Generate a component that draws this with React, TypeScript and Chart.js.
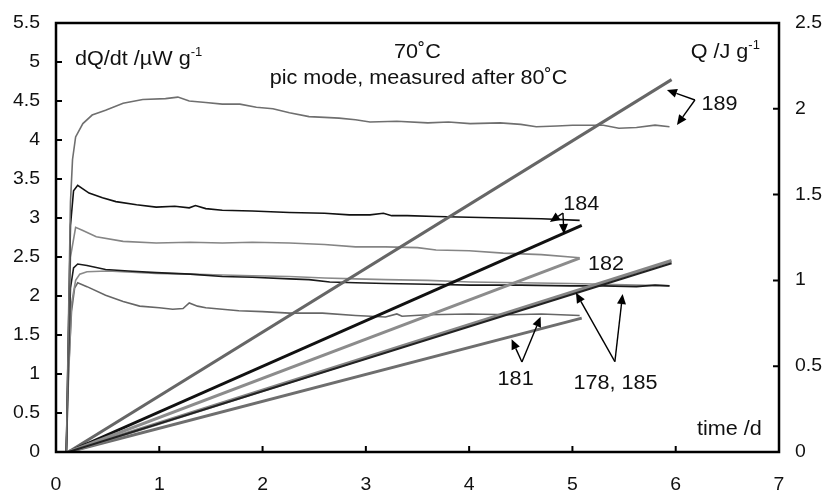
import React, { useEffect, useRef } from 'react';
import { Chart, registerables } from 'chart.js';

Chart.register(...registerables);

// ---- axis ticks ----
const timeTicks = [0, 1, 2, 3, 4, 5, 6, 7];
const flowTicks = [0, 0.5, 1, 1.5, 2, 2.5, 3, 3.5, 4, 4.5, 5, 5.5];
const heatTicks = [0, 0.5, 1, 1.5, 2, 2.5];

// ---- heat flow dQ/dt (µW g-1) against time (d) ----
const flow189T = [0.10, 0.12, 0.14, 0.16, 0.19, 0.26, 0.35, 0.48, 0.65, 0.84, 1.06, 1.18, 1.29, 1.45, 1.61, 1.78, 1.94, 2.10, 2.26, 2.45, 2.60, 2.74, 2.90, 3.04, 3.30, 3.60, 3.80, 4.01, 4.30, 4.50, 4.65, 4.85, 5.00, 5.30, 5.45, 5.62, 5.80, 5.94];
const flow189 = [0, 1.6, 3.2, 3.75, 4.04, 4.21, 4.32, 4.38, 4.47, 4.52, 4.53, 4.55, 4.50, 4.48, 4.46, 4.46, 4.42, 4.40, 4.35, 4.30, 4.29, 4.28, 4.26, 4.23, 4.24, 4.22, 4.23, 4.21, 4.22, 4.20, 4.17, 4.18, 4.19, 4.19, 4.15, 4.16, 4.19, 4.17];

const flow184T = [0.10, 0.12, 0.14, 0.17, 0.21, 0.32, 0.45, 0.58, 0.78, 0.97, 1.15, 1.29, 1.35, 1.45, 1.61, 1.90, 2.26, 2.60, 2.84, 3.04, 3.17, 3.25, 3.40, 3.68, 4.00, 4.33, 4.70, 5.07];
const flow184 = [0, 1.5, 2.9, 3.35, 3.42, 3.32, 3.26, 3.21, 3.17, 3.14, 3.15, 3.13, 3.16, 3.12, 3.10, 3.09, 3.07, 3.06, 3.04, 3.04, 3.06, 3.03, 3.03, 3.02, 3.01, 3.00, 2.99, 2.97];

const flow182T = [0.10, 0.12, 0.14, 0.19, 0.26, 0.39, 0.65, 0.97, 1.30, 1.61, 1.90, 2.26, 2.60, 2.90, 3.19, 3.50, 3.68, 4.00, 4.33, 4.70, 5.07];
const flow182 = [0, 1.4, 2.5, 2.88, 2.84, 2.76, 2.70, 2.68, 2.69, 2.68, 2.69, 2.68, 2.66, 2.63, 2.63, 2.62, 2.59, 2.58, 2.55, 2.53, 2.49];

const flow178T = [0.10, 0.12, 0.14, 0.17, 0.21, 0.30, 0.48, 0.70, 0.97, 1.30, 1.61, 1.90, 2.26, 2.45, 2.65, 2.90, 3.19, 3.60, 4.01, 4.50, 4.98, 5.30, 5.62, 5.80, 5.94];
const flow178 = [0, 1.2, 2.1, 2.36, 2.41, 2.39, 2.34, 2.32, 2.30, 2.28, 2.25, 2.24, 2.22, 2.21, 2.18, 2.17, 2.16, 2.15, 2.14, 2.14, 2.13, 2.13, 2.12, 2.14, 2.13];

const flow185T = [0.10, 0.12, 0.15, 0.19, 0.23, 0.30, 0.50, 0.97, 1.30, 1.61, 1.90, 2.26, 2.60, 2.90, 3.19, 3.60, 4.01, 4.50, 4.98, 5.30, 5.62, 5.94];
const flow185 = [0, 0.9, 1.9, 2.2, 2.28, 2.31, 2.32, 2.29, 2.28, 2.27, 2.26, 2.25, 2.23, 2.22, 2.21, 2.20, 2.18, 2.17, 2.16, 2.15, 2.14, 2.13];

const flow181T = [0.10, 0.12, 0.15, 0.18, 0.21, 0.30, 0.48, 0.65, 0.81, 1.00, 1.13, 1.23, 1.29, 1.37, 1.45, 1.77, 2.00, 2.26, 2.58, 2.90, 3.19, 3.30, 3.35, 3.60, 4.00, 4.40, 4.70, 5.07];
const flow181 = [0, 1.0, 1.8, 2.1, 2.17, 2.12, 2.01, 1.93, 1.87, 1.85, 1.83, 1.84, 1.91, 1.87, 1.85, 1.81, 1.80, 1.78, 1.78, 1.75, 1.73, 1.77, 1.74, 1.76, 1.77, 1.76, 1.77, 1.75];

// ---- cumulative heat Q (J g-1) against time (d) ----
const heat189T = [0.12, 5.96];
const heat189 = [0, 2.17];
const heat184T = [0.12, 5.09];
const heat184 = [0, 1.32];
const heat182T = [0.12, 5.07];
const heat182 = [0, 1.13];
const heat185T = [0.12, 5.96];
const heat185 = [0, 1.115];
const heat178T = [0.12, 5.96];
const heat178 = [0, 1.10];
const heat181T = [0.12, 5.09];
const heat181 = [0, 0.78];

// ---- annotation text (time, left-axis value) ----
const labelTexts = ['189', '184', '182', '181', '178, 185'];
const labelT = [6.25, 4.91, 5.15, 4.45, 5.417];
const labelV = [4.385, 3.10, 2.33, 0.859, 0.808];
const labelAlign: CanvasTextAlign[] = ['left', 'left', 'left', 'center', 'center'];

// ---- pointer arrows: from (time, value) to (time, value) ----
const arrowFromT = [6.186, 6.186, 4.908, 4.908, 4.511, 4.511, 5.411, 5.411];
const arrowFromV = [4.513, 4.513, 3.064, 3.064, 1.154, 1.154, 1.158, 1.158];
const arrowToT = [5.915, 6.012, 4.782, 4.918, 4.411, 4.692, 5.034, 5.486];
const arrowToV = [4.641, 4.192, 2.949, 2.795, 1.445, 1.735, 2.042, 2.026];

const FONT = '"Liberation Sans", Arial, Helvetica, sans-serif';
const SX = 1.08; // horizontal glyph stretch of the lettering
const INK = '#111';

const pts = (t: number[], v: number[]) => t.map((x, i) => ({ x, y: v[i] }));

function drawText(
  ctx: CanvasRenderingContext2D,
  str: string,
  x: number,
  y: number,
  size: number,
  align: CanvasTextAlign,
  baseline: CanvasTextBaseline = 'alphabetic'
) {
  ctx.save();
  ctx.font = `${size}px ${FONT}`;
  const w = ctx.measureText(str).width * SX;
  const x0 = align === 'left' ? x : align === 'center' ? x - w / 2 : x - w;
  ctx.translate(x0, y);
  ctx.scale(SX, 1);
  ctx.textAlign = 'left';
  ctx.textBaseline = baseline;
  ctx.fillStyle = INK;
  ctx.fillText(str, 0, 0);
  ctx.restore();
  return w;
}

function textWidth(ctx: CanvasRenderingContext2D, str: string, size: number) {
  ctx.save();
  ctx.font = `${size}px ${FONT}`;
  const w = ctx.measureText(str).width * SX;
  ctx.restore();
  return w;
}

// unit label with a "-1" exponent
function drawUnit(
  ctx: CanvasRenderingContext2D,
  main: string,
  x: number,
  y: number,
  align: 'left' | 'right'
) {
  const size = 20;
  const supSize = 12;
  const wMain = textWidth(ctx, main, size);
  const wSup = textWidth(ctx, '-1', supSize);
  const x0 = align === 'left' ? x : x - wMain - wSup;
  drawText(ctx, main, x0, y, size, 'left');
  drawText(ctx, '-1', x0 + wMain, y - 9, supSize, 'left');
}

function drawArrow(ctx: CanvasRenderingContext2D, fx: number, fy: number, tx: number, ty: number) {
  const ang = Math.atan2(ty - fy, tx - fx);
  const L = 10;
  const W = 4.5;
  const bx = tx - L * Math.cos(ang);
  const by = ty - L * Math.sin(ang);
  ctx.beginPath();
  ctx.moveTo(fx, fy);
  ctx.lineTo(bx, by);
  ctx.stroke();
  ctx.beginPath();
  ctx.moveTo(tx, ty);
  ctx.lineTo(bx + W * Math.sin(ang), by - W * Math.cos(ang));
  ctx.lineTo(bx - W * Math.sin(ang), by + W * Math.cos(ang));
  ctx.closePath();
  ctx.fill();
}

const decorPlugin = {
  id: 'decor',
  afterDatasetsDraw(chart: any) {
    const { ctx, chartArea: a, scales } = chart;
    const xs = scales.x;
    const ys = scales.y;
    const y1s = scales.y1;
    ctx.save();

    // frame
    ctx.strokeStyle = '#000';
    ctx.lineWidth = 2.5;
    ctx.strokeRect(a.left, a.top, a.right - a.left, a.bottom - a.top);

    // inward tick marks
    ctx.lineWidth = 2;
    ctx.beginPath();
    flowTicks.forEach((v) => {
      const py = ys.getPixelForValue(v);
      ctx.moveTo(a.left, py);
      ctx.lineTo(a.left + 6, py);
    });
    heatTicks.forEach((v) => {
      const py = y1s.getPixelForValue(v);
      ctx.moveTo(a.right, py);
      ctx.lineTo(a.right - 6, py);
    });
    timeTicks.forEach((v) => {
      const px = xs.getPixelForValue(v);
      ctx.moveTo(px, a.bottom);
      ctx.lineTo(px, a.bottom - 6);
    });
    ctx.stroke();

    // tick labels
    const tickSize = 18;
    flowTicks.forEach((v) => {
      drawText(ctx, String(v), a.left - 16, ys.getPixelForValue(v), tickSize, 'right', 'middle');
    });
    heatTicks.forEach((v) => {
      drawText(ctx, String(v), a.right + 16, y1s.getPixelForValue(v), tickSize, 'left', 'middle');
    });
    timeTicks.forEach((v) => {
      drawText(ctx, String(v), xs.getPixelForValue(v), a.bottom + 33, tickSize, 'center', 'middle');
    });

    // pointer arrows
    ctx.strokeStyle = '#000';
    ctx.fillStyle = '#000';
    ctx.lineWidth = 1.4;
    arrowFromT.forEach((t, i) => {
      drawArrow(
        ctx,
        xs.getPixelForValue(t),
        ys.getPixelForValue(arrowFromV[i]),
        xs.getPixelForValue(arrowToT[i]),
        ys.getPixelForValue(arrowToV[i])
      );
    });

    // sample numbers
    labelTexts.forEach((s, i) => {
      drawText(ctx, s, xs.getPixelForValue(labelT[i]), ys.getPixelForValue(labelV[i]), 20, labelAlign[i]);
    });

    // headings and axis titles
    drawUnit(ctx, 'dQ/dt /µW g', xs.getPixelForValue(0.184), ys.getPixelForValue(4.96), 'left');
    drawUnit(ctx, 'Q /J g', xs.getPixelForValue(6.815), ys.getPixelForValue(5.05), 'right');
    drawText(ctx, '70˚C', xs.getPixelForValue(3.5), ys.getPixelForValue(5.05), 20, 'center');
    drawText(ctx, 'pic mode, measured after 80˚C', xs.getPixelForValue(3.51), ys.getPixelForValue(4.72), 20, 'center');
    drawText(ctx, 'time /d', xs.getPixelForValue(6.834), ys.getPixelForValue(0.218), 20, 'right');

    ctx.restore();
  },
};

const flowLine = (label: string, t: number[], v: number[], color: string) => ({
  label,
  data: pts(t, v),
  yAxisID: 'y',
  borderColor: color,
  borderWidth: 1.6,
  pointRadius: 0,
  tension: 0,
  fill: false,
});

const heatLine = (label: string, t: number[], v: number[], color: string, width: number) => ({
  label,
  data: pts(t, v),
  yAxisID: 'y1',
  borderColor: color,
  borderWidth: width,
  pointRadius: 0,
  tension: 0,
  fill: false,
});

export default function App() {
  const ref = useRef<HTMLCanvasElement>(null);

  useEffect(() => {
    if (!ref.current) return;
    const chart = new Chart(ref.current, {
      type: 'line',
      data: {
        datasets: [
          heatLine('Q 178', heat178T, heat178, '#222', 2),
          heatLine('Q 185', heat185T, heat185, '#858585', 3.5),
          heatLine('Q 181', heat181T, heat181, '#6e6e6e', 3),
          heatLine('Q 182', heat182T, heat182, '#8c8c8c', 3),
          heatLine('Q 184', heat184T, heat184, '#111', 3),
          heatLine('Q 189', heat189T, heat189, '#666', 3),
          flowLine('dQ/dt 189', flow189T, flow189, '#6f6f6f'),
          flowLine('dQ/dt 184', flow184T, flow184, '#111'),
          flowLine('dQ/dt 182', flow182T, flow182, '#858585'),
          flowLine('dQ/dt 178', flow178T, flow178, '#1a1a1a'),
          flowLine('dQ/dt 185', flow185T, flow185, '#8a8a8a'),
          flowLine('dQ/dt 181', flow181T, flow181, '#666'),
        ] as any,
      },
      options: {
        animation: false,
        responsive: false,
        maintainAspectRatio: false,
        parsing: false as any,
        layout: { padding: { top: 23, left: 0, right: 0, bottom: 0 } },
        plugins: {
          legend: { display: false },
          tooltip: { enabled: false },
        },
        scales: {
          x: {
            type: 'linear',
            min: 0,
            max: 7,
            afterBuildTicks: (s: any) => {
              s.ticks = timeTicks.map((value) => ({ value }));
            },
            ticks: { display: false },
            grid: { display: false },
            border: { display: false },
            afterFit: (s: any) => {
              s.height = 40;
            },
          },
          y: {
            type: 'linear',
            position: 'left',
            min: 0,
            max: 5.5,
            afterBuildTicks: (s: any) => {
              s.ticks = flowTicks.map((value) => ({ value }));
            },
            ticks: { display: false },
            grid: { display: false },
            border: { display: false },
            afterFit: (s: any) => {
              s.width = 56;
            },
          },
          y1: {
            type: 'linear',
            position: 'right',
            min: 0,
            max: 2.5,
            afterBuildTicks: (s: any) => {
              s.ticks = heatTicks.map((value) => ({ value }));
            },
            ticks: { display: false },
            grid: { display: false },
            border: { display: false },
            afterFit: (s: any) => {
              s.width = 48;
            },
          },
        },
      } as any,
      plugins: [decorPlugin],
    });
    return () => chart.destroy();
  }, []);

  return (
    <div style={{ position: 'fixed', left: 0, top: 0, width: 827, height: 492, background: '#fff' }}>
      <canvas ref={ref} width={827} height={492} style={{ display: 'block' }} />
    </div>
  );
}
